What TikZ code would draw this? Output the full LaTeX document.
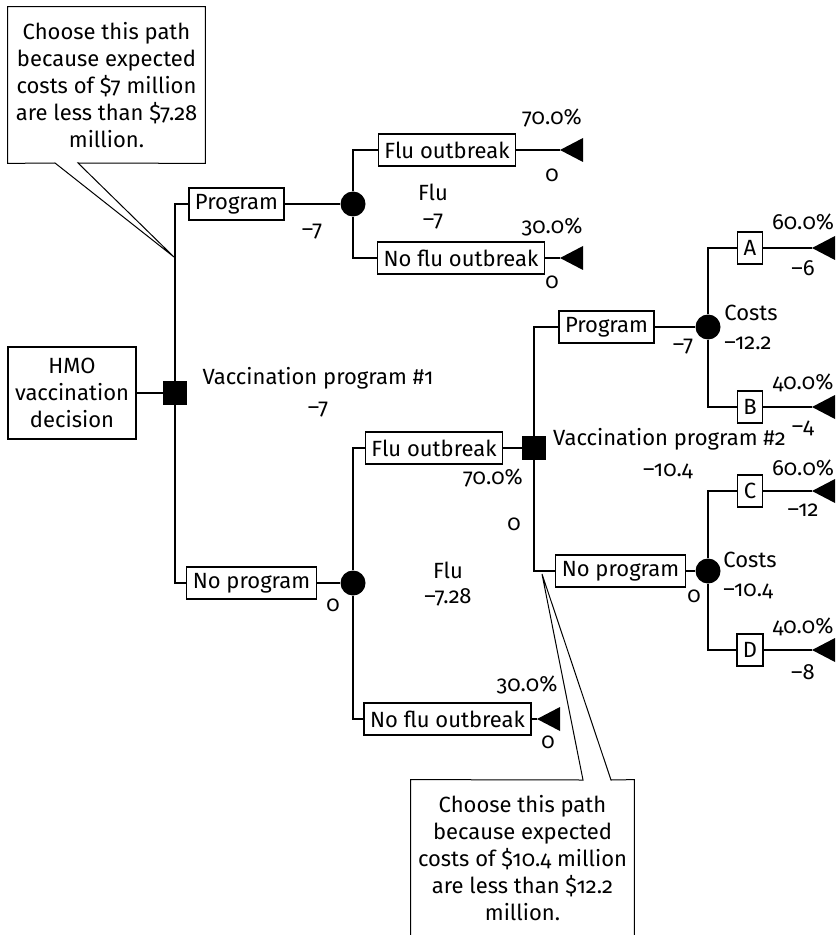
\documentclass[tikz,border=0pt]{standalone}
\usepackage{fontspec}
\setmainfont{Fira Sans}[Numbers=OldStyle]
\usepackage{tikz}

\begin{document}
\begin{tikzpicture}[
  x=0.5pt, y=-0.5pt,
  font=\fontsize{11}{13.5}\selectfont,
  opt/.style={draw, line width=0.6pt, fill=white, inner xsep=3pt, inner ysep=0pt,
              minimum height=16pt},
  dec/.style={rectangle, fill, minimum size=12pt, inner sep=0pt},
  chance/.style={circle, fill, minimum size=12.5pt, inner sep=0pt},
  lbl/.style={inner sep=0pt},
  branch/.style={line width=1.3pt},
  note/.style={align=center, inner sep=0pt, minimum width=98.5pt, minimum height=78pt},
  notebox/.style={line width=0.5pt}]

  \useasboundingbox (0,0) rectangle (835,935);

  % first decision
  \node[draw, line width=0.6pt, align=center, inner sep=0pt,
        minimum width=64pt, minimum height=46pt] (hmo) at (72,393)
       {HMO\\vaccination\\decision};
  \node[dec] (d1) at (175,393) {};
  \node[opt] (prog1) at (236.5,204) {Program};
  \node[opt] (noprog1) at (251.5,583) {No program};

  % flu, with program
  \node[chance] (c1) at (353,204) {};
  \node[opt] (flu1) at (447,150) {Flu outbreak};
  \node[opt] (noflu1) at (461,258) {No flu outbreak};
  \coordinate (t1) at (560,150);
  \coordinate (t2) at (560,258);

  % flu, no program
  \node[chance] (c2) at (353,583) {};
  \node[opt] (flu2) at (434,448) {Flu outbreak};
  \node[opt] (noflu2) at (447.5,719) {No flu outbreak};
  \coordinate (t3) at (537,719);

  % second decision
  \node[dec] (d2) at (534,448) {};
  \node[opt] (prog2) at (606.5,327) {Program};
  \node[opt] (noprog2) at (620.5,571) {No program};

  % costs
  \node[chance] (c3) at (708,327) {};
  \node[opt] (optA) at (750,248) {A};
  \node[opt] (optB) at (750,407) {B};
  \node[chance] (c4) at (708,571) {};
  \node[opt] (optC) at (750,491) {C};
  \node[opt] (optD) at (750,650) {D};
  \coordinate (t4) at (812,248);
  \coordinate (t5) at (812,407);
  \coordinate (t6) at (812,491);
  \coordinate (t7) at (812,650);

  \draw[branch] (hmo) -- (d1);
  \draw[branch] (d1) |- (prog1);
  \draw[branch] (d1) |- (noprog1);
  \draw[branch] (prog1) -- (c1);
  \draw[branch] (c1) |- (flu1);
  \draw[branch] (c1) |- (noflu1);
  \draw[branch] (flu1) -- (t1);
  \draw[branch] (noflu1) -- (t2);
  \draw[branch] (noprog1) -- (c2);
  \draw[branch] (c2) |- (flu2);
  \draw[branch] (c2) |- (noflu2);
  \draw[branch] (noflu2) -- (t3);
  \draw[branch] (flu2) -- (d2);
  \draw[branch] (d2) |- (prog2);
  \draw[branch] (d2) |- (noprog2);
  \draw[branch] (prog2) -- (c3);
  \draw[branch] (c3) |- (optA);
  \draw[branch] (c3) |- (optB);
  \draw[branch] (optA) -- (t4);
  \draw[branch] (optB) -- (t5);
  \draw[branch] (noprog2) -- (c4);
  \draw[branch] (c4) |- (optC);
  \draw[branch] (c4) |- (optD);
  \draw[branch] (optC) -- (t6);
  \draw[branch] (optD) -- (t7);

  % end points
  \foreach \t in {t1,t2,t3,t4,t5,t6,t7}
    \fill (\t) -- ++(23,-12) -- ++(0,24) -- cycle;

  % values and probabilities
  \node[lbl] (pf1) at (552,118) {70.0\%};
  \node[lbl] (vf1) at (552,175) {0};
  \node[lbl] (pn1) at (552,227) {30.0\%};
  \node[lbl] (vn1) at (552,282) {0};
  \node[lbl] (flu1name) at (433,192) {Flu};
  \node[lbl] (flu1val) at (433,222) {–7};
  \node[lbl] (prog1val) at (312,232) {–7};
  \node[lbl] (vp1name) at (318,378) {Vaccination program \#1};
  \node[lbl] (vp1val) at (318,410) {–7};
  \node[lbl] (noprog1val) at (333,605) {0};
  \node[lbl] (pf2) at (493,478) {70.0\%};
  \node[lbl] (vf2) at (514,524) {0};
  \node[lbl] (flu2name) at (448,570) {Flu};
  \node[lbl] (flu2val) at (448,597) {–7.28};
  \node[lbl] (pn2) at (527,685) {30.0\%};
  \node[lbl] (vn2) at (548,742) {0};
  \node[lbl] (vp2name) at (669.5,439) {Vaccination program \#2};
  \node[lbl] (vp2val) at (668,471) {–10.4};
  \node[lbl] (prog2val) at (683,347) {–7};
  \node[lbl, anchor=west] (cost1name) at (724,313) {Costs};
  \node[lbl, anchor=west] (cost1val) at (724,343) {–12.2};
  \node[lbl] (noprog2val) at (694,596) {0};
  \node[lbl, anchor=west] (cost2name) at (723,560) {Costs};
  \node[lbl, anchor=west] (cost2val) at (723,591) {–10.4};
  \node[lbl] (pA) at (803,222) {60.0\%};
  \node[lbl] (vA) at (803,268) {–6};
  \node[lbl] (pB) at (803,383) {40.0\%};
  \node[lbl] (vB) at (803,428) {–4};
  \node[lbl] (pC) at (803,468) {60.0\%};
  \node[lbl] (vC) at (803,510) {–12};
  \node[lbl] (pD) at (803,627) {40.0\%};
  \node[lbl] (vD) at (803,672) {–8};

  % callouts
  \node[note] (note1) at (106.5,85)
       {Choose this path\\because expected\\costs of \$7 million\\are less than \$7.28\\million.};
  \coordinate (n1a) at (55,163);
  \coordinate (n1b) at (78,163);
  \coordinate (tip1) at (174,257);
  \draw[notebox] (note1.south west) -- (note1.north west) -- (note1.north east)
    -- (note1.south east) -- (n1b) -- (tip1) -- (n1a) -- cycle;

  \node[note, minimum width=111.5pt] (note2) at (522.5,858)
       {Choose this path\\because expected\\costs of \$10.4 million\\are less than \$12.2\\million.};
  \coordinate (n2a) at (583,780);
  \coordinate (n2b) at (611,780);
  \coordinate (tip2) at (542,574);
  \draw[notebox] (note2.north west) -- (n2a) -- (tip2) -- (n2b)
    -- (note2.north east) -- (note2.south east) -- (note2.south west) -- cycle;
\end{tikzpicture}
\end{document}
